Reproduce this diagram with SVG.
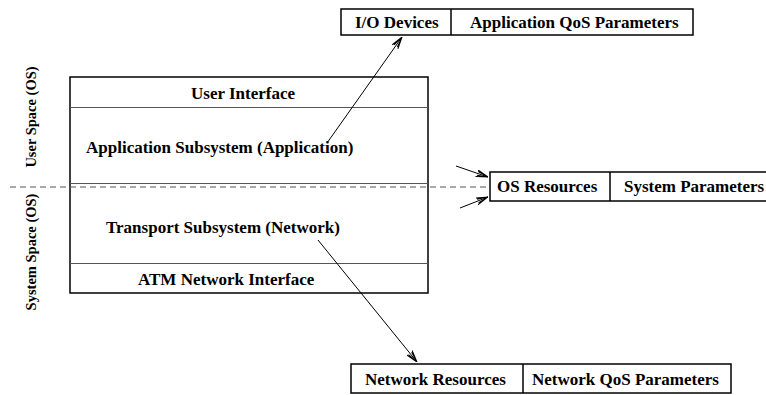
<svg xmlns="http://www.w3.org/2000/svg" width="766" height="395" viewBox="0 0 766 395">
  <style>
    text { font-family: "Liberation Serif", "Times New Roman", serif; font-weight: bold; font-size: 17px; fill: #000; }
    .side { font-size: 14.5px; }
    .box { fill: #fff; stroke: #000; stroke-width: 1.5; }
    .div { stroke: #000; stroke-width: 1.5; }
    .inner { stroke: #555; stroke-width: 1; }
    .dash { stroke: #555; stroke-width: 1.2; stroke-dasharray: 6 4; fill: none; }
    .conn { stroke: #000; stroke-width: 1; fill: none; marker-end: url(#arr); }
  </style>
  <defs>
    <marker id="arr" viewBox="0 0 12 8" refX="12" refY="4" markerWidth="12" markerHeight="8" markerUnits="userSpaceOnUse" orient="auto">
      <path d="M0,0.5 L12,4 L0,7.5 M1,2 L12,4 L1,6" fill="none" stroke="#000" stroke-width="1"/>
    </marker>
  </defs>
  <rect width="766" height="395" fill="#fff"/>

  <g id="space-labels">
    <text class="side" transform="translate(36,117) rotate(-90)" text-anchor="middle">User Space (OS)</text>
    <text class="side" transform="translate(36,252) rotate(-90)" text-anchor="middle">System Space (OS)</text>
  </g>

  <g id="system-stack">
    <rect class="box" x="70" y="77" width="358" height="216"/>
    <line class="inner" x1="70" y1="107.5" x2="428" y2="107.5"/>
    <line class="inner" x1="70" y1="183.5" x2="428" y2="183.5"/>
    <line class="inner" x1="70" y1="263.5" x2="428" y2="263.5"/>
    <text x="191" y="99">User Interface</text>
    <text x="86" y="153">Application Subsystem (Application)</text>
    <text x="106" y="233">Transport Subsystem (Network)</text>
    <text x="138" y="285">ATM Network Interface</text>
  </g>

  <line id="boundary" class="dash" x1="10" y1="187" x2="489" y2="187"/>

  <g id="io-box">
    <rect class="box" x="341" y="9" width="352" height="26"/>
    <line class="div" x1="451" y1="9" x2="451" y2="35"/>
    <text x="355" y="28">I/O Devices</text>
    <text x="470" y="28">Application QoS Parameters</text>
  </g>

  <g id="os-box">
    <rect class="box" x="490" y="172" width="280" height="29"/>
    <line class="div" x1="610" y1="172" x2="610" y2="201"/>
    <text x="497" y="192">OS Resources</text>
    <text x="624" y="192">System Parameters</text>
  </g>

  <g id="network-box">
    <rect class="box" x="351" y="364" width="380" height="29"/>
    <line class="div" x1="523" y1="364" x2="523" y2="393"/>
    <text x="365" y="385">Network Resources</text>
    <text x="532" y="385">Network QoS Parameters</text>
  </g>

  <g id="connectors">
    <line class="conn" x1="327" y1="143" x2="402" y2="37"/>
    <line class="conn" x1="318" y1="240" x2="417" y2="362"/>
    <line class="conn" x1="456" y1="166" x2="488" y2="177"/>
    <line class="conn" x1="460" y1="208" x2="488" y2="197"/>
  </g>
</svg>
